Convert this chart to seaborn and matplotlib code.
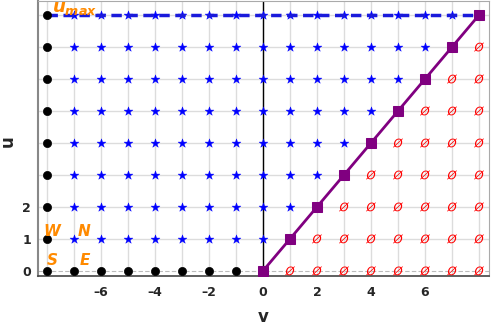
import numpy as np
import pandas as pd
import matplotlib
matplotlib.use("Agg")
import matplotlib.pyplot as plt
import seaborn as sns

# Data
umax = 8
boundary_v = [-8] * 9 + [-7, -6, -5, -4, -3, -2, -1]
boundary_u = list(range(0, 9)) + [0] * 7
star_v = []
star_u = []
for u in range(1, 9):
    for v in range(-7, min(u, 8)):
        star_v.append(v)
        star_u.append(u)
empty_v = []
empty_u = []
for u in range(0, 8):
    for v in range(u + 1, 9):
        empty_v.append(v)
        empty_u.append(u)
diag_v = list(range(0, 9))
diag_u = list(range(0, 9))
xticks = [-6, -4, -2, 0, 2, 4, 6]
yticks = list(range(0, 9))
ytick_labels = ["0", "1", "2", "", "", "", "", "", ""]

sns.set_theme(style="white")
plt.rcParams['font.family'] = ['DejaVu Sans']
plt.rcParams['mathtext.fontset'] = 'dejavusans'

fig = plt.figure(figsize=(4.91, 3.27), dpi=100)
ax = fig.add_axes([38/491, 51/327, (489-38)/491, (276-1)/327])

ax.set_xlim(-8.33, 8.37)
ax.set_ylim(-0.16, 8.44)

# grid
for g in range(-8, 9):
    ax.axvline(g, color="#dcdcdc", lw=1.0, zorder=0)
for g in range(1, 9):
    ax.axhline(g, color="#dcdcdc", lw=1.0, zorder=0)
ax.axhline(0, color="#bbbbbb", lw=0.8, ls=(0, (4, 2)), zorder=0)
ax.axvline(0, color="black", lw=1.0, zorder=1)

df_star = pd.DataFrame({"v": star_v, "u": star_u})
sns.scatterplot(data=df_star, x="v", y="u", marker="*", s=45, color="blue",
                edgecolor="blue", linewidth=0.3, ax=ax, zorder=3)

# dashed umax line
ax.plot([-8, 8], [umax, umax], color="#1a1adb", lw=2.5, ls=(0, (3, 1.6)), zorder=3.5)

df_empty = pd.DataFrame({"v": empty_v, "u": empty_u})
sns.scatterplot(data=df_empty, x="v", y="u", marker="$\u00d8$", s=50,
                color="red", edgecolor="none", linewidth=0, ax=ax, zorder=3)

df_bd = pd.DataFrame({"v": boundary_v, "u": boundary_u})
sns.scatterplot(data=df_bd, x="v", y="u", marker="o", s=35, color="black",
                edgecolor="black", ax=ax, zorder=4)

df_diag = pd.DataFrame({"v": diag_v, "u": diag_u})
sns.lineplot(data=df_diag, x="v", y="u", color="#800080", lw=2, marker="s",
             markersize=6.5, markeredgecolor="#800080", ax=ax, zorder=5)

orange = "#ff8a00"
ax.text(-7.8, 7.93, r"$\mathbfit{u}_{\mathbfit{max}}$", color=orange, fontsize=13,
        ha="left", va="bottom", zorder=6)
for txt, x, y in [("W", -8.12, 1.0), ("N", -6.85, 1.0), ("S", -8.0, 0.08), ("E", -6.8, 0.08)]:
    ax.text(x, y, txt, color=orange, fontsize=11, fontweight="bold", fontstyle="italic",
            ha="left", va="bottom", zorder=6)

ax.set_xticks(xticks)
ax.set_xticklabels([str(t).replace("-", "\u2013") for t in xticks], fontweight="bold", fontsize=9)
ax.set_yticks(yticks)
ax.set_yticklabels(ytick_labels, fontweight="bold", fontsize=9)
ax.tick_params(axis="both", direction="out", length=3, width=0.8, color="#555555", pad=2)
ax.tick_params(axis="x", pad=4)

ax.set_xlabel("v", fontweight="bold", fontsize=12)
ax.set_ylabel("u", fontweight="bold", fontsize=12)
ax.xaxis.set_label_coords(0.499, -0.118)
ax.yaxis.set_label_coords(-0.047, 0.49)

for side in ["top", "right"]:
    ax.spines[side].set_color("#aaaaaa")
    ax.spines[side].set_linewidth(0.8)
ax.spines["left"].set_color("#888888")
ax.spines["left"].set_linewidth(1.5)
ax.spines["bottom"].set_color("#444444")
ax.spines["bottom"].set_linewidth(1.2)

fig.savefig("out.png", dpi=100)
